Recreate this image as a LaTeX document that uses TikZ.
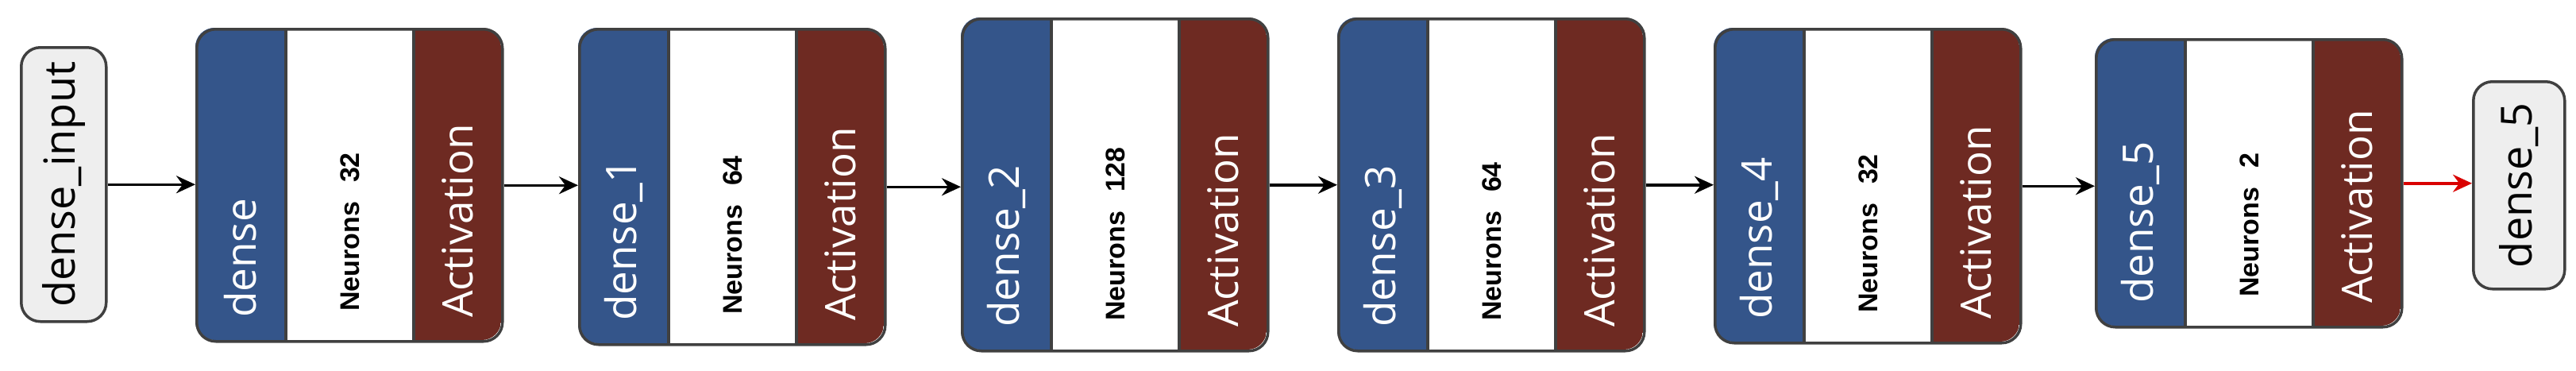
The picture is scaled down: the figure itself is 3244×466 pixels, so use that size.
\documentclass[tikz,border=0pt]{standalone}
\usepackage{fontspec}
\setmainfont{Open Sans}
\newfontfamily\nfont{Liberation Sans}
\usetikzlibrary{arrows.meta}
\definecolor{lblue}{HTML}{34558A}
\definecolor{lred}{HTML}{6E2A22}
\definecolor{bord}{HTML}{404040}
\definecolor{iofill}{HTML}{EEEEEE}
\tikzset{
  lbl/.style={rotate=90,anchor=west,text=white,font=\fontsize{53}{56}\selectfont,inner sep=0},
  nlbl/.style={rotate=90,anchor=west,font=\nfont\bfseries\fontsize{34}{36}\selectfont,inner sep=0},
  iobox/.style={draw=bord,line width=3.5pt,fill=iofill,rounded corners=24pt,anchor=north west,inner sep=0},
  iotext/.style={rotate=90,font=\fontsize{54}{58}\selectfont},
  conn/.style={line width=3.5pt,-{Stealth[length=24pt,width=22pt,inset=8pt]}},
}
\newcommand{\mylayer}[6]{%
  \begin{scope}
    \clip[rounded corners=24pt] (#2,#3) rectangle (#2+385,#4);
    \fill[lblue] (#2,#3) rectangle (#2+114,#4);
    \fill[white] (#2+114,#3) rectangle (#2+275,#4);
    \fill[lred] (#2+275,#3) rectangle (#2+385,#4);
  \end{scope}
  \draw[bord,line width=3.5pt] (#2+114,#3) -- (#2+114,#4) (#2+275,#3) -- (#2+275,#4);
  \node[draw=bord,line width=3.5pt,rounded corners=24pt,anchor=north west,inner sep=0,
        minimum width=385pt,minimum height=#4pt-#3pt] (#1) at (#2,#3) {};
  \node[lbl] (#1l) at (#2+57,#4-28) {#5};
  \node[nlbl] (#1n) at (#2+195,#4-36) {Neurons\hspace{24pt}#6};
  \node[lbl] (#1a) at (#2+330,#4-28) {Activation};
}
\begin{document}
\begin{tikzpicture}[x=1pt,y=-1pt]
\useasboundingbox (0,0) rectangle (3244,466);
\node[iobox,minimum width=107pt,minimum height=345pt] (in) at (25,58) {};
\node[iotext] at (in.center) {dense\_input};
\mylayer{b1}{246}{35}{428}{dense}{32}
\mylayer{b2}{728}{35}{432}{dense\_1}{64}
\mylayer{b3}{1210}{22}{440}{dense\_2}{128}
\mylayer{b4}{1684}{22}{440}{dense\_3}{64}
\mylayer{b5}{2158}{35}{430}{dense\_4}{32}
\mylayer{b6}{2638}{48}{410}{dense\_5}{2}
\node[iobox,minimum width=115pt,minimum height=261pt] (out) at (3113,101) {};
\node[iotext] at (out.center) {dense\_5};
\draw[conn] (in.east) -- (in.east -| b1.west);
\draw[conn] (b1.east) -- (b1.east -| b2.west);
\draw[conn] (b2.east) -- (b2.east -| b3.west);
\draw[conn] (b3.east) -- (b3.east -| b4.west);
\draw[conn] (b4.east) -- (b4.east -| b5.west);
\draw[conn] (b5.east) -- (b5.east -| b6.west);
\draw[conn,red!85!black] (b6.east) -- (b6.east -| out.west);
\end{tikzpicture}
\end{document}
